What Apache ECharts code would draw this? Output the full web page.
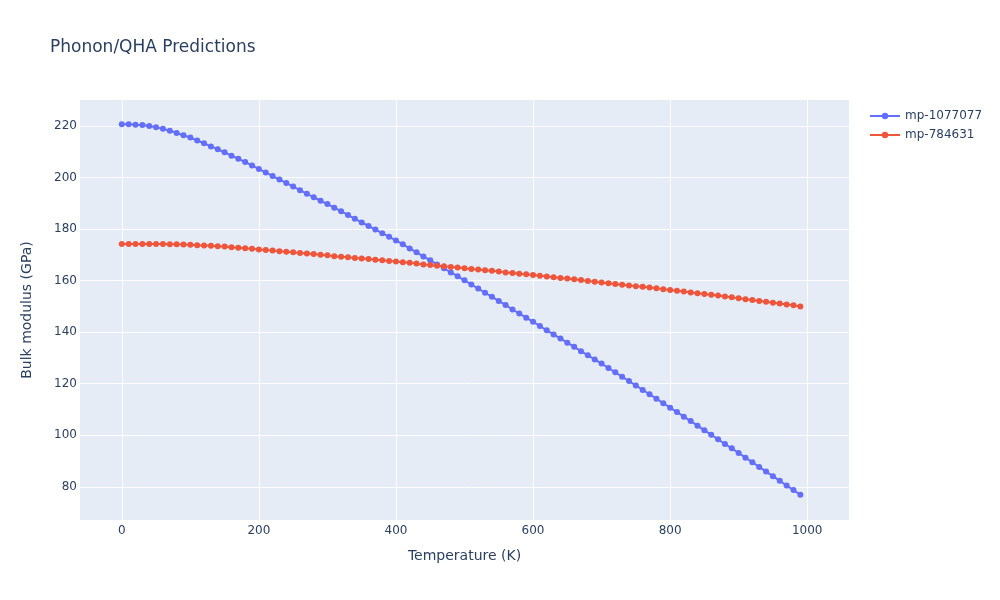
<!DOCTYPE html>
<html>
<head>
<meta charset="utf-8">
<script src="https://cdn.jsdelivr.net/npm/echarts@6/dist/echarts.min.js"></script>
<style>html,body{margin:0;padding:0;background:#fff}#c{width:1000px;height:600px}</style>
</head>
<body>
<div id="c"></div>
<script>
const temperatures = [0,10,20,30,40,50,60,70,80,90,100,110,120,130,140,150,160,170,180,190,200,210,220,230,240,250,260,270,280,290,300,310,320,330,340,350,360,370,380,390,400,410,420,430,440,450,460,470,480,490,500,510,520,530,540,550,560,570,580,590,600,610,620,630,640,650,660,670,680,690,700,710,720,730,740,750,760,770,780,790,800,810,820,830,840,850,860,870,880,890,900,910,920,930,940,950,960,970,980,990];
const bulkMp1077077 = [220.7,220.7,220.5,220.4,220.0,219.5,218.9,218.2,217.3,216.4,215.5,214.4,213.3,212.1,211.0,209.8,208.5,207.3,206.0,204.7,203.3,202.0,200.6,199.2,197.9,196.5,195.1,193.7,192.4,191.0,189.7,188.3,186.9,185.5,184.0,182.6,181.2,179.8,178.4,177.0,175.6,174.1,172.5,171.0,169.4,167.9,166.3,164.8,163.2,161.7,160.1,158.5,156.9,155.3,153.7,152.1,150.5,148.8,147.2,145.6,144.0,142.4,140.7,139.1,137.5,135.9,134.3,132.6,131.0,129.4,127.8,126.1,124.4,122.7,121.0,119.3,117.6,115.9,114.2,112.4,110.7,109.0,107.2,105.5,103.7,101.9,100.2,98.4,96.6,94.9,93.1,91.3,89.5,87.7,85.9,84.1,82.3,80.5,78.7,76.9];
const bulkMp784631 = [174.2,174.2,174.2,174.2,174.2,174.2,174.2,174.1,174.1,174.0,173.9,173.7,173.6,173.5,173.3,173.2,173.0,172.8,172.6,172.4,172.1,171.9,171.7,171.4,171.2,171.0,170.7,170.5,170.3,170.0,169.8,169.5,169.3,169.1,168.8,168.6,168.4,168.1,167.9,167.6,167.4,167.1,166.9,166.6,166.3,166.1,165.8,165.6,165.3,165.1,164.8,164.5,164.3,164.0,163.8,163.5,163.2,163.0,162.7,162.5,162.2,161.9,161.6,161.3,161.0,160.8,160.5,160.2,159.9,159.6,159.3,159.0,158.7,158.4,158.1,157.8,157.6,157.3,157.0,156.7,156.4,156.1,155.8,155.4,155.1,154.8,154.5,154.2,153.8,153.5,153.2,152.8,152.5,152.1,151.8,151.4,151.1,150.7,150.4,150.0];
const xTicks = [0,200,400,600,800,1000];
const yTicks = [80,100,120,140,160,180,200,220];
const seriesNames = ['mp-1077077','mp-784631'];

const font = '"DejaVu Sans", Verdana, sans-serif';
const txt = '#2a3f5f';
const chart = echarts.init(document.getElementById('c'), null, {renderer:'canvas'});
const pair = (ys) => temperatures.map((t,i)=>[t, ys[i]]);
chart.setOption({
  animation:false,
  backgroundColor:'#fff',
  title:{text:'Phonon/QHA Predictions', left:45, top:34, textStyle:{fontFamily:font, fontSize:17, fontWeight:'normal', color:txt}},
  legend:{orient:'vertical', left:864, top:105, itemWidth:30, itemHeight:8, itemGap:7,
    textStyle:{fontFamily:font, fontSize:12, color:txt}, data:seriesNames},
  grid:{left:80, right:151, top:100, bottom:80, show:true, backgroundColor:'#E5ECF6', borderWidth:0},
  xAxis:{type:'value', min:-61, max:1061,
    name:'Temperature (K)', nameLocation:'middle', nameGap:29,
    nameTextStyle:{fontFamily:font, fontSize:14, color:txt},
    axisLine:{show:false}, axisTick:{show:false, customValues:xTicks},
    axisLabel:{customValues:xTicks, margin:5, fontFamily:font, fontSize:12, color:txt, formatter:(v)=>String(v)},
    splitLine:{show:true, lineStyle:{color:'#fff', width:1}}},
  yAxis:{type:'value', min:67.1, max:230.1,
    name:'Bulk modulus (GPa)', nameLocation:'middle', nameGap:46,
    nameTextStyle:{fontFamily:font, fontSize:14, color:txt},
    axisLine:{show:false}, axisTick:{show:false, customValues:yTicks},
    axisLabel:{customValues:yTicks, margin:3, fontFamily:font, fontSize:12, color:txt, formatter:(v)=>String(v)},
    splitLine:{show:true, lineStyle:{color:'#fff', width:1}}},
  series:[
    {name:seriesNames[0], type:'line', data:pair(bulkMp1077077), symbol:'circle', symbolSize:6, showSymbol:true,
      itemStyle:{color:'#636efa'}, lineStyle:{color:'#636efa', width:2}},
    {name:seriesNames[1], type:'line', data:pair(bulkMp784631), symbol:'circle', symbolSize:6, showSymbol:true,
      itemStyle:{color:'#EF553B'}, lineStyle:{color:'#EF553B', width:2}}
  ]
});
</script>
</body>
</html>
